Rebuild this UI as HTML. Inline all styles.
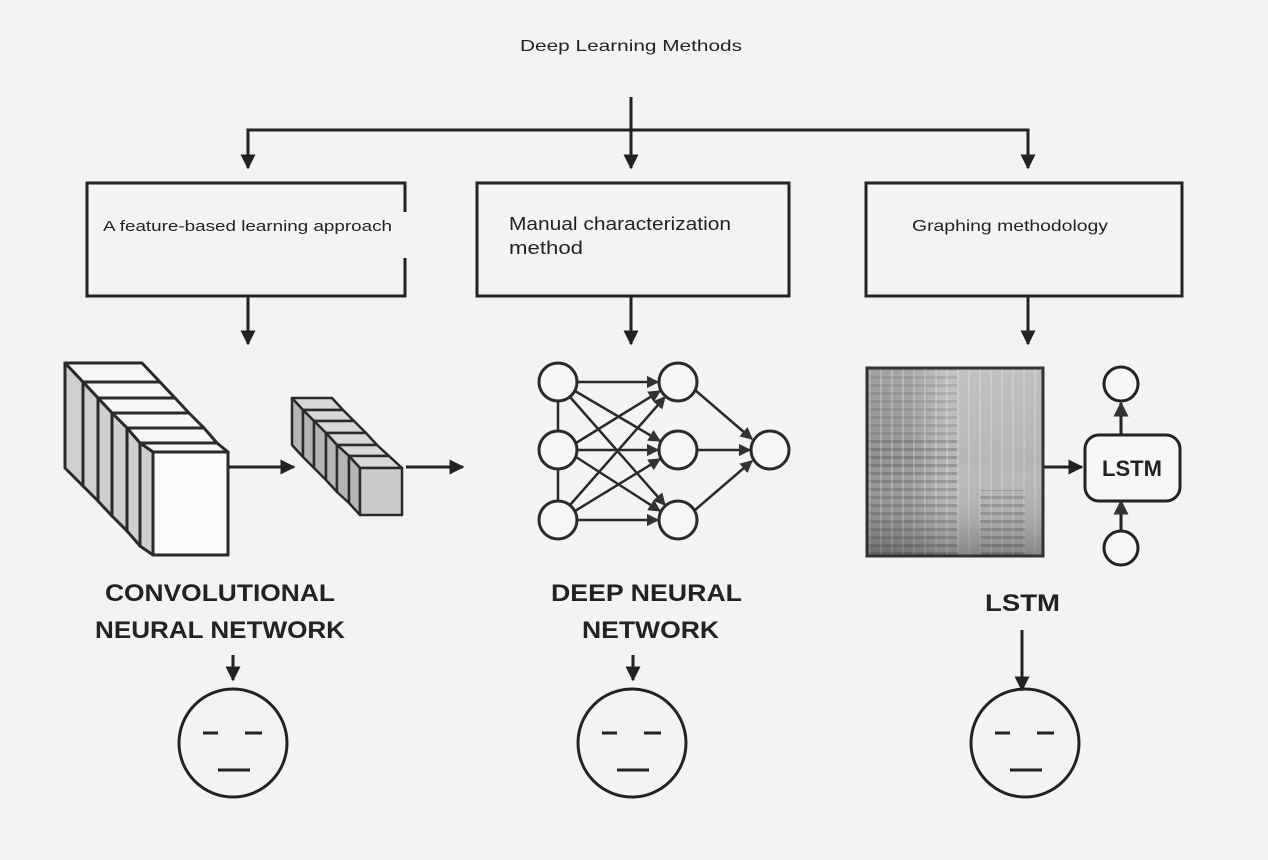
<!DOCTYPE html>
<html><head><meta charset="utf-8"><style>
html,body{margin:0;padding:0;background:#f3f3f3;}
svg{display:block;}
text{font-family:"Liberation Sans",sans-serif;fill:#222;}
</style></head><body>
<svg width="1268" height="860" viewBox="0 0 1268 860" xmlns="http://www.w3.org/2000/svg">
<defs>
<marker id="ah" viewBox="0 0 10 10" refX="9" refY="5" markerWidth="5" markerHeight="5" orient="auto"><path d="M0,0 L10,5 L0,10 z" fill="#222"/></marker>
<marker id="ah2" viewBox="0 0 10 10" refX="9" refY="5" markerWidth="5" markerHeight="5" orient="auto"><path d="M0,0 L10,5 L0,10 z" fill="#333"/></marker>
<linearGradient id="sg" x1="0" y1="0" x2="1" y2="0">
<stop offset="0" stop-color="#8f8f8f"/><stop offset="0.25" stop-color="#9a9a9a"/><stop offset="0.45" stop-color="#b8b8b8"/><stop offset="1" stop-color="#b4b4b4"/></linearGradient>
<linearGradient id="vg" x1="0" y1="0" x2="0" y2="1">
<stop offset="0" stop-color="#fff" stop-opacity="0.15"/><stop offset="0.5" stop-color="#fff" stop-opacity="0"/><stop offset="1" stop-color="#222" stop-opacity="0.35"/></linearGradient>
<pattern id="hs" width="4" height="8" patternUnits="userSpaceOnUse"><rect width="4" height="3" fill="#444" opacity="0.3"/></pattern>
<pattern id="vs" width="11" height="4" patternUnits="userSpaceOnUse"><rect width="2" height="4" fill="#eee" opacity="0.25"/></pattern>
</defs>
<rect width="1268" height="860" fill="#f3f3f3"/>
<text x="631" y="51" font-size="16" text-anchor="middle" textLength="222" lengthAdjust="spacingAndGlyphs">Deep Learning Methods</text>
<g stroke="#222" stroke-width="3" fill="none">
<line x1="631" y1="97" x2="631" y2="168" marker-end="url(#ah)"/>
<polyline points="248,168 248,130 1028,130 1028,168" marker-end="url(#ah)"/>
<line x1="248" y1="130" x2="248" y2="168" marker-end="url(#ah)"/>
<rect x="87" y="183" width="318" height="113"/>
<rect x="477" y="183" width="312" height="113"/>
<rect x="866" y="183" width="316" height="113"/>
<line x1="248" y1="296" x2="248" y2="344" marker-end="url(#ah)"/>
<line x1="631" y1="296" x2="631" y2="344" marker-end="url(#ah)"/>
<line x1="1028" y1="296" x2="1028" y2="344" marker-end="url(#ah)"/>
</g>
<rect x="402" y="212" width="6" height="46" fill="#f3f3f3"/>
<text x="103" y="231" font-size="15" textLength="289" lengthAdjust="spacingAndGlyphs">A feature-based learning approach</text>
<text x="509" y="230" font-size="18" textLength="222" lengthAdjust="spacingAndGlyphs">Manual characterization</text>
<text x="509" y="254" font-size="18" textLength="74" lengthAdjust="spacingAndGlyphs">method</text>
<text x="912" y="231" font-size="16" textLength="196" lengthAdjust="spacingAndGlyphs">Graphing methodology</text>

<g stroke="#2a2a2a" stroke-width="3" stroke-linejoin="round">
<polygon points="65,363 142,363 160,382 83,382" fill="#f6f6f6"/><polygon points="65,363 83,382 83,486 65,468" fill="#cfcfcf"/>
<polygon points="83,382 160,382 175,398 98,398" fill="#f6f6f6"/><polygon points="83,382 98,398 98,501 83,486" fill="#cfcfcf"/>
<polygon points="98,398 175,398 189,413 112,413" fill="#f6f6f6"/><polygon points="98,398 112,413 112,516 98,501" fill="#cfcfcf"/>
<polygon points="112,413 189,413 204,428 127,428" fill="#f6f6f6"/><polygon points="112,413 127,428 127,531 112,516" fill="#cfcfcf"/>
<polygon points="127,428 204,428 217,443 140,443" fill="#f6f6f6"/><polygon points="127,428 140,443 140,546 127,531" fill="#cfcfcf"/>
<polygon points="140,443 217,443 228,452 153,452" fill="#f6f6f6"/><polygon points="140,443 153,452 153,555 140,546" fill="#cfcfcf"/>
<rect x="153" y="452" width="75" height="103" fill="#fafafa"/>
</g>
<g stroke="#2a2a2a" stroke-width="2.5" stroke-linejoin="round">
<polygon points="292,398 332,398 343,410 303,410" fill="#d8d8d8"/><polygon points="292,398 303,410 303,457 292,445" fill="#b5b5b5"/>
<polygon points="303,410 343,410 354,421 314,421" fill="#d8d8d8"/><polygon points="303,410 314,421 314,468 303,457" fill="#b5b5b5"/>
<polygon points="314,421 354,421 366,433 326,433" fill="#d8d8d8"/><polygon points="314,421 326,433 326,480 314,468" fill="#b5b5b5"/>
<polygon points="326,433 366,433 377,445 337,445" fill="#d8d8d8"/><polygon points="326,433 337,445 337,492 326,480" fill="#b5b5b5"/>
<polygon points="337,445 377,445 389,456 349,456" fill="#d8d8d8"/><polygon points="337,445 349,456 349,503 337,492" fill="#b5b5b5"/>
<polygon points="349,456 389,456 402,468 360,468" fill="#d8d8d8"/><polygon points="349,456 360,468 360,515 349,503" fill="#b5b5b5"/>
<rect x="360" y="468" width="42" height="47" fill="#cbcbcb"/>
</g>
<g stroke="#222" stroke-width="3">
<line x1="229" y1="467" x2="294" y2="467" marker-end="url(#ah)"/>
<line x1="406" y1="467" x2="463" y2="467" marker-end="url(#ah)"/>
</g>

<g stroke="#2a2a2a" stroke-width="2.5" fill="none">
<line x1="558" y1="401" x2="558" y2="431"/><line x1="558" y1="469" x2="558" y2="501"/>
<g marker-end="url(#ah2)">
<line x1="577" y1="382" x2="658" y2="382"/><line x1="575" y1="391" x2="660" y2="441"/><line x1="570" y1="397" x2="665" y2="505"/>
<line x1="576" y1="443" x2="660" y2="391"/><line x1="577" y1="450" x2="658" y2="450"/><line x1="576" y1="457" x2="660" y2="511"/>
<line x1="570" y1="505" x2="665" y2="397"/><line x1="575" y1="511" x2="660" y2="459"/><line x1="577" y1="520" x2="658" y2="520"/>
<line x1="695" y1="390" x2="752" y2="439"/><line x1="697" y1="450" x2="750" y2="450"/><line x1="695" y1="510" x2="752" y2="461"/>
</g>
<g fill="#f6f6f6" stroke-width="3">
<circle cx="558" cy="382" r="19"/><circle cx="558" cy="450" r="19"/><circle cx="558" cy="520" r="19"/>
<circle cx="678" cy="382" r="19"/><circle cx="678" cy="450" r="19"/><circle cx="678" cy="520" r="19"/>
<circle cx="770" cy="450" r="19"/>
</g>
</g>

<rect x="867" y="368" width="176" height="188" fill="url(#sg)"/>
<rect x="867" y="440" width="90" height="116" fill="url(#hs)"/>
<rect x="980" y="490" width="45" height="66" fill="url(#hs)"/>
<rect x="867" y="368" width="90" height="72" fill="url(#hs)" opacity="0.6"/>
<rect x="867" y="368" width="176" height="188" fill="url(#vs)"/>
<rect x="867" y="368" width="176" height="188" fill="url(#vg)"/>
<rect x="867" y="368" width="176" height="188" fill="none" stroke="#333" stroke-width="3"/>
<g stroke="#222" stroke-width="3" fill="none">
<line x1="1044" y1="467" x2="1082" y2="467" marker-end="url(#ah)"/>
<rect x="1085" y="435" width="95" height="66" rx="14" fill="#f6f6f6"/>
<line x1="1121" y1="435" x2="1121" y2="403" marker-end="url(#ah2)"/>
<line x1="1121" y1="531" x2="1121" y2="501" marker-end="url(#ah2)"/>
<circle cx="1121" cy="384" r="17" fill="#f6f6f6"/>
<circle cx="1121" cy="548" r="17" fill="#f6f6f6"/>
</g>
<text x="1132" y="476" font-size="22" font-weight="bold" text-anchor="middle" fill="#333">LSTM</text>

<g font-weight="bold" font-size="24" fill="#333">
<text x="105" y="601" textLength="230" lengthAdjust="spacingAndGlyphs" fill="#333">CONVOLUTIONAL</text>
<text x="95" y="638" textLength="250" lengthAdjust="spacingAndGlyphs" fill="#333">NEURAL NETWORK</text>
<text x="551" y="601" textLength="191" lengthAdjust="spacingAndGlyphs" fill="#333">DEEP NEURAL</text>
<text x="582" y="638" textLength="137" lengthAdjust="spacingAndGlyphs" fill="#333">NETWORK</text>
<text x="985" y="611" textLength="75" lengthAdjust="spacingAndGlyphs" fill="#333">LSTM</text>
</g>

<g stroke="#222" stroke-width="3" fill="none">
<line x1="233" y1="655" x2="233" y2="680" marker-end="url(#ah)"/>
<line x1="633" y1="655" x2="633" y2="680" marker-end="url(#ah)"/>
<line x1="1022" y1="630" x2="1022" y2="690" marker-end="url(#ah)"/>
<circle cx="233" cy="743" r="54"/>
<line x1="203" y1="733" x2="218" y2="733"/><line x1="245" y1="733" x2="262" y2="733"/><line x1="218" y1="770" x2="250" y2="770"/>
<circle cx="632" cy="743" r="54"/>
<line x1="602" y1="733" x2="617" y2="733"/><line x1="644" y1="733" x2="661" y2="733"/><line x1="617" y1="770" x2="649" y2="770"/>
<circle cx="1025" cy="743" r="54"/>
<line x1="995" y1="733" x2="1010" y2="733"/><line x1="1037" y1="733" x2="1054" y2="733"/><line x1="1010" y1="770" x2="1042" y2="770"/>
</g>
</svg>
</body></html>
